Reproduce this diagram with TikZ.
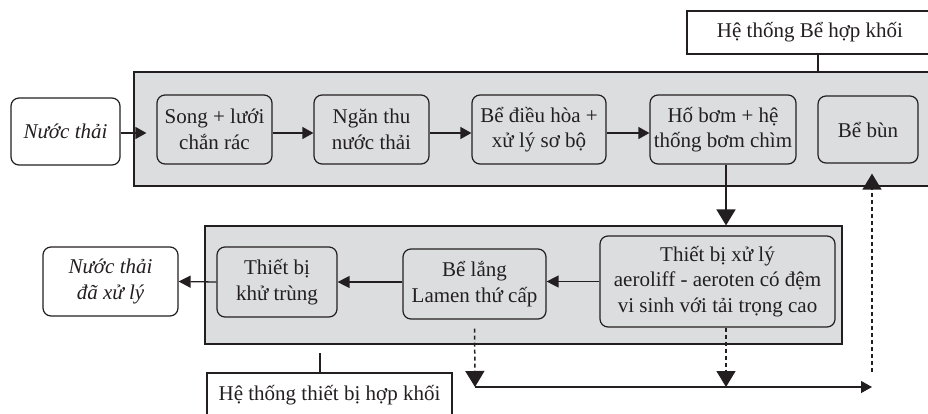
\documentclass[tikz,border=0pt]{standalone}
\usepackage{fontspec}
\setmainfont{Liberation Serif}
\usetikzlibrary{arrows.meta}
\definecolor{ink}{RGB}{35,31,32}
\definecolor{panel}{RGB}{220,221,223}
\newcommand{\boxfont}{\fontsize{21}{25.5}\selectfont}
\tikzset{
  panelbox/.style={draw=ink, line width=1.2pt, fill=panel, inner sep=0pt},
  stepbox/.style={draw=ink, line width=1.2pt, fill=panel, rounded corners=8pt,
    align=center, inner sep=0pt, text=ink},
  endbox/.style={draw=ink, line width=1.2pt, fill=white, rounded corners=8pt,
    align=center, inner sep=0pt, text=ink, font=\boxfont\itshape},
  tagbox/.style={draw=ink, line width=1.1pt, fill=white, inner sep=0pt, text=ink},
  flow/.style={draw=ink, line width=1.3pt, -{Triangle[length=11pt,width=12pt]}},
  drop/.style={draw=ink, line width=1.8pt, -{Triangle[length=16pt,width=19pt]}},
  sludge/.style={draw=ink, line width=1.5pt, dash pattern=on 4pt off 3pt,
    -{Triangle[length=16pt,width=19pt]}},
  tick/.style={draw=ink, line width=1.1pt},
}
\begin{document}
\begin{tikzpicture}[x=1pt, y=-1pt, font=\boxfont]
\useasboundingbox (0,0) rectangle (928,413);
\clip (0,0) rectangle (928,413);

% grey housings of the two packaged units
\node[panelbox, minimum width=801pt, minimum height=114pt] (upperbox) at (534.5,129) {};
\node[panelbox, minimum width=637pt, minimum height=118pt] (lowerbox) at (523.5,285) {};

% captions of the two units
\node[tagbox, minimum width=246pt, minimum height=43pt] (hdr) at (810,32.5) {Hệ thống Bể hợp khối};
\node[tagbox, minimum width=245pt, minimum height=44pt] (ftr) at (329.5,395) {Hệ thống thiết bị hợp khối};
\coordinate (ftrtick) at (320,353);

% first line of treatment
\node[endbox, minimum width=109pt, minimum height=67pt] (inflow) at (65.5,131.5) {Nước thải};
\node[stepbox, minimum width=115pt, minimum height=69pt] (song) at (214.5,129.5) {Song + lưới\\chắn rác};
\node[stepbox, minimum width=115pt, minimum height=69pt] (ngan) at (371.5,129.5) {Ngăn thu\\nước thải};
\node[stepbox, minimum width=134pt, minimum height=69pt] (dieuhoa) at (539,129.5) {Bể điều hòa +\\xử lý sơ bộ};
\node[stepbox, minimum width=146pt, minimum height=69pt] (hobom) at (723,129.5) {Hố bơm + hệ\\thống bơm chìm};
\node[stepbox, minimum width=100pt, minimum height=67pt] (bebun) at (868,129.5) {Bể bùn};

% second line of treatment
\node[endbox, minimum width=135pt, minimum height=69pt] (outflow) at (110.5,281.5) {Nước thải\\đã xử lý};
\node[stepbox, minimum width=120pt, minimum height=70pt] (khutrung) at (277,282) {Thiết bị\\khử trùng};
\node[stepbox, minimum width=143pt, minimum height=70pt] (belang) at (474.5,284) {Bể lắng\\Lamen thứ cấp};
\node[stepbox, minimum width=235pt, minimum height=91pt] (xuly) at (717.5,281.5) {Thiết bị xử lý\\aeroliff - aeroten có đệm\\vi sinh với tải trọng cao};

% sludge collection line
\coordinate (c1) at (475,387);
\coordinate (c2) at (726,387);
\coordinate (c3) at (872,387);
\coordinate (riser) at (872,372);

% caption leaders
\draw[tick] ([xshift=8pt]hdr.south) -- ([xshift=8pt]hdr.south |- upperbox.north);
\draw[tick] (ftrtick) -- (ftrtick |- ftr.north);

% water flow
\draw[flow, shorten >=10pt] ([yshift=-1.5pt]inflow.east) -- ([yshift=-3.5pt]song.west);
\draw[flow] ([yshift=-3.5pt]song.east) -- ([yshift=-3.5pt]ngan.west);
\draw[flow] ([yshift=-3.5pt]ngan.east) -- ([yshift=-3.5pt]dieuhoa.west);
\draw[flow] ([yshift=-3.5pt]dieuhoa.east) -- ([yshift=-3.5pt]hobom.west);
\draw[drop] ([xshift=3pt]hobom.south) -- ([xshift=3pt]hobom.south |- lowerbox.north);
\draw[flow, -{Triangle[length=12pt,width=12pt]}] (xuly.west) -- (xuly.west -| belang.east);
\draw[flow, -{Triangle[length=12pt,width=12pt]}] ([yshift=2pt]belang.west) -- (khutrung.east);
\draw[flow, -{Triangle[length=12pt,width=12pt]}] (khutrung.west) -- (outflow.east);

% sludge flow
\draw[sludge, shorten <=9pt] (belang.south) -- (c1);
\draw[sludge] ([xshift=8.5pt]xuly.south) -- (c2);
\draw[flow] (c1) -- (c3);
\draw[sludge, shorten >=10pt] (riser) -- (riser |- bebun.south);
\end{tikzpicture}
\end{document}
